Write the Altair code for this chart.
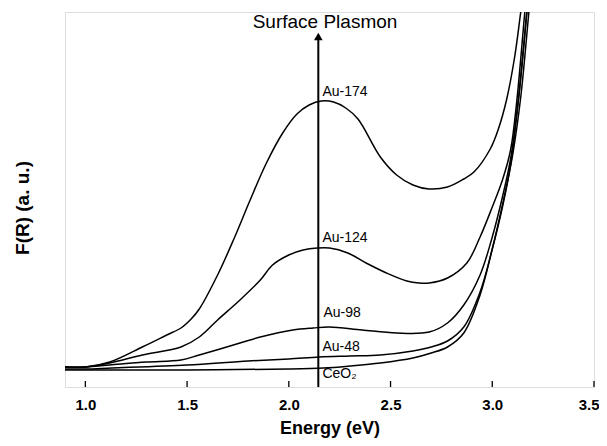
import altair as alt
import pandas as pd

# ---- data ----
au174_e = [0.9, 1.0, 1.12, 1.28, 1.40, 1.47, 1.52, 1.56, 1.65, 1.73, 1.81, 1.89, 1.97, 2.04, 2.10, 2.16, 2.22, 2.28, 2.34, 2.45, 2.53, 2.61, 2.69, 2.78, 2.86, 2.91, 2.99, 3.03, 3.07, 3.11, 3.14, 3.17]
au174_v = [20, 20, 25, 40, 52, 59, 68, 78, 112, 148, 187, 224, 254, 273, 282, 286, 285, 279, 268, 230, 212, 202, 198, 200, 208, 215, 238, 258, 287, 330, 375, 420]

au124_e = [0.9, 1.0, 1.12, 1.28, 1.47, 1.56, 1.65, 1.76, 1.86, 1.92, 2.0, 2.07, 2.14, 2.20, 2.29, 2.38, 2.48, 2.58, 2.64, 2.69, 2.78, 2.875, 2.94, 3.00, 3.05, 3.09, 3.12, 3.16, 3.19]
au124_v = [20, 20, 24, 32, 40, 50, 67, 87, 107, 122, 132, 137, 139, 139, 134, 124, 114, 106, 104, 104, 109, 124, 150, 180, 207, 237, 285, 375, 440]

au98_e = [0.9, 1.0, 1.12, 1.30, 1.47, 1.56, 1.76, 1.86, 2.02, 2.12, 2.20, 2.36, 2.53, 2.69, 2.78, 2.86, 2.94, 3.00, 3.05, 3.09, 3.13, 3.17, 3.20]
au98_v = [20, 20, 22, 25, 27, 32, 44, 50, 57, 59, 60, 57, 54, 55, 64, 82, 112, 150, 190, 228, 290, 375, 440]

au48_e = [0.9, 1.0, 1.13, 1.5, 1.8, 2.0, 2.15, 2.3, 2.45, 2.61, 2.70, 2.78, 2.86, 2.94, 3.00, 3.05, 3.09, 3.13, 3.17, 3.20]
au48_v = [18, 18, 19, 22, 26, 28, 30, 31, 32, 36, 40, 46, 60, 95, 138, 180, 222, 290, 375, 440]

ceo2_e = [0.9, 1.5, 2.0, 2.17, 2.3, 2.45, 2.61, 2.70, 2.78, 2.86, 2.94, 3.00, 3.05, 3.10, 3.14, 3.18, 3.21]
ceo2_v = [17, 17, 18, 19, 21, 24, 29, 34, 40, 54, 92, 138, 182, 232, 290, 375, 440]

series_names = ["Au-174", "Au-124", "Au-98", "Au-48", "CeO2"]
x_ticks = [1.0, 1.5, 2.0, 2.5, 3.0, 3.5]

label_text = ["Au-174", "Au-124", "Au-98", "Au-48", "CeO\u2082"]
label_x = [2.165, 2.165, 2.17, 2.165, 2.165]
label_y = [295, 149, 74, 40, 13]

arrow_x = 2.145
arrow_top = 355
plasmon_text = "Surface Plasmon"
plasmon_x = 2.178
plasmon_y = 365.5

X_MIN, X_MAX = 0.9, 3.5
Y_MIN, Y_MAX = 0, 375

rows = []
for name, es, vs in zip(series_names,
                        [au174_e, au124_e, au98_e, au48_e, ceo2_e],
                        [au174_v, au124_v, au98_v, au48_v, ceo2_v]):
    for e, v in zip(es, vs):
        rows.append({"series": name, "E": e, "F": v})
df = pd.DataFrame(rows)

W, H = 529, 375
FONT = "Liberation Sans"

xscale = alt.Scale(domain=[X_MIN, X_MAX], nice=False, zero=False)
yscale = alt.Scale(domain=[Y_MIN, Y_MAX], nice=False, zero=False)

xaxis = alt.Axis(values=x_ticks, format=".1f", ticks=False, grid=False, domain=False,
                 labelFont=FONT, labelFontWeight="bold", labelFontSize=15, labelColor="black",
                 labelPadding=10, labelFlush=1, labelFlushOffset=5,
                 title="Energy (eV)", titleFont=FONT, titleFontWeight="bold", titleFontSize=18,
                 titleColor="black", titleY=46, titleBaseline="alphabetic")
yaxis = alt.Axis(labels=False, ticks=False, grid=False, domain=False,
                 title="F(R)  (a. u.)", titleFont=FONT, titleFontWeight="bold", titleFontSize=19,
                 titleColor="black", titleX=-43, titleY=H / 2 + 8, titleAngle=270,
                 titleAlign="center", titleBaseline="middle")

lines = alt.Chart(df).mark_line(color="black", strokeWidth=1.5, clip=True, interpolate="catmull-rom").encode(
    x=alt.X("E:Q", scale=xscale, axis=xaxis),
    y=alt.Y("F:Q", scale=yscale, axis=yaxis),
    detail="series:N",
)

ticks = alt.Chart(pd.DataFrame({"t": x_ticks})).mark_rule(color="black", strokeWidth=1.3).encode(
    x=alt.X("t:Q", scale=xscale),
    y=alt.value(H),
    y2=alt.value(H - 6),
)

arrow = alt.Chart(pd.DataFrame({"x": [arrow_x], "y0": [Y_MIN], "y1": [arrow_top - 7]})).mark_rule(
    color="black", strokeWidth=2).encode(
    x=alt.X("x:Q", scale=xscale),
    y=alt.Y("y0:Q", scale=yscale),
    y2="y1:Q",
)

head = alt.Chart(pd.DataFrame({"x": [arrow_x], "y": [arrow_top - 4.5]})).mark_point(
    shape="triangle-up", filled=True, color="black", size=75, opacity=1).encode(
    x=alt.X("x:Q", scale=xscale),
    y=alt.Y("y:Q", scale=yscale),
)

labels = alt.Chart(pd.DataFrame({"x": label_x, "y": label_y, "t": label_text})).mark_text(
    align="left", baseline="middle", font=FONT, fontSize=14, color="black").encode(
    x=alt.X("x:Q", scale=xscale),
    y=alt.Y("y:Q", scale=yscale),
    text="t:N",
)

plasmon = alt.Chart(pd.DataFrame({"x": [plasmon_x], "y": [plasmon_y], "t": [plasmon_text]})).mark_text(
    align="center", baseline="middle", font=FONT, fontSize=19, color="black").encode(
    x=alt.X("x:Q", scale=xscale),
    y=alt.Y("y:Q", scale=yscale),
    text="t:N",
)

chart = alt.layer(lines, ticks, arrow, head, labels, plasmon).properties(
    width=W, height=H,
    autosize=alt.AutoSizeParams(type="none"),
    padding={"left": 57, "top": 4, "right": 5, "bottom": 51},
).configure_view(stroke="black", strokeWidth=1.5).configure(background="white")

chart.save("out.html", embed_options={"renderer": "svg", "actions": False})
